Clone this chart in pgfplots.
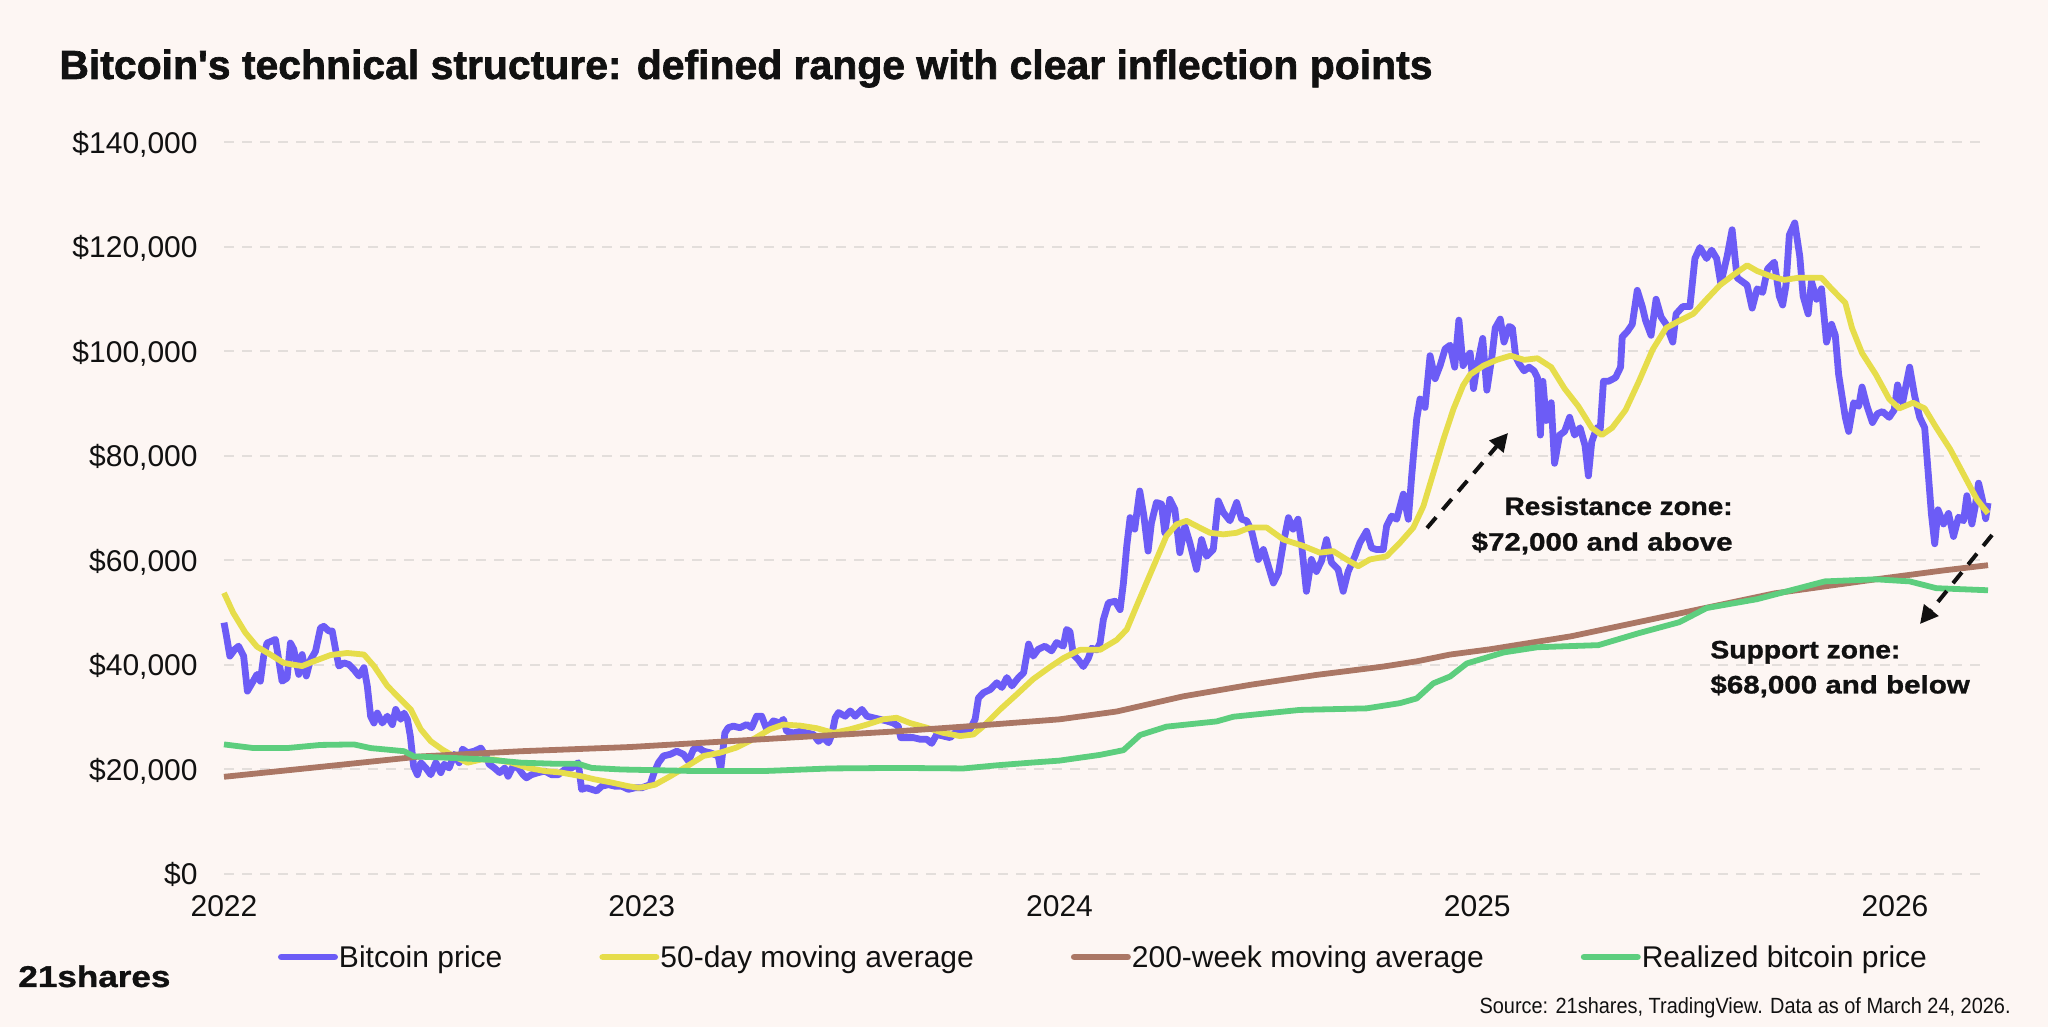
\documentclass[border=0pt]{standalone}
\usepackage{pgfplots}
\pgfplotsset{compat=1.18}
\usepackage{fontspec}
\setmainfont{Liberation Sans}
\newfontface\titlefont{Liberation Sans Bold}[FakeBold=1.6]
\newfontface\heavy{Liberation Sans Bold}[FakeBold=1.0]
\usetikzlibrary{arrows.meta}
\definecolor{bgc}{RGB}{253,246,243}
\definecolor{btc}{RGB}{108,92,246}
\definecolor{ma50}{RGB}{230,221,75}
\definecolor{ma200}{RGB}{171,119,101}
\definecolor{real}{RGB}{93,206,126}
\definecolor{gridc}{RGB}{227,222,219}
\definecolor{txt}{RGB}{17,17,17}
\begin{document}
\begin{tikzpicture}[x=1pt,y=1pt]
\fill[bgc] (0,0) rectangle (1024,513.5);
\useasboundingbox (0,0) rectangle (1024,513.5);
\begin{axis}[
  at={(112pt,76.5pt)}, anchor=south west, scale only axis,
  width=882pt, height=365.75pt,
  xmin=2022, xmax=2026.2226, ymin=0, ymax=140000,
  clip=false,
  axis line style={draw=none}, major tick length=0pt,
  scaled x ticks=false, scaled y ticks=false,
  xtick={2022,2023,2024,2025,2026}, xticklabels={2022,2023,2024,2025,2026},
  ytick={0,20000,40000,60000,80000,100000,120000,140000},
  yticklabels={{\$0},{\$20,000},{\$40,000},{\$60,000},{\$80,000},{\$100,000},{\$120,000},{\$140,000}},
  ymajorgrids, major grid style={gridc, line width=1pt, dash pattern=on 5pt off 4pt},
  tick label style={font=\fontsize{15}{18}\selectfont, text=txt, inner sep=0pt, text height=10.7pt, text depth=0pt},
  yticklabel style={anchor=east, xshift=-13pt},
  xticklabel style={anchor=north, yshift=-10.25pt},
  legend columns=4, legend cell align=left,
  legend style={at={(axis description cs:0.03061,-0.11347)}, anchor=west, draw=none, fill=none,
    inner sep=0pt, outer sep=0pt, font=\fontsize{15}{18}\selectfont, text=txt,
    nodes={inner sep=0.5pt, text height=10.7pt, text depth=0pt},
    /tikz/every even column/.append style={column sep=48pt}},
  legend image code/.code={\draw[#1, line width=3.4pt, line cap=round] (1.7pt,0pt) -- (28.3pt,0pt);},
]
\addplot[btc, line width=3.4pt, line join=round, mark=none] coordinates {
(2022.000,48100)(2022.006,45500)(2022.014,41700)(2022.026,43000)(2022.035,43600)(2022.047,41700)(2022.056,35000)(2022.067,36500)(2022.079,38200)(2022.087,36900)(2022.095,41700)(2022.103,44200)(2022.115,44600)(2022.123,44900)(2022.131,41000)(2022.139,36900)(2022.151,37500)(2022.159,44200)(2022.167,43000)(2022.179,38200)(2022.187,42000)(2022.197,37900)(2022.207,41000)(2022.219,42600)(2022.231,47100)(2022.239,47400)(2022.251,46500)(2022.259,46500)(2022.267,43000)(2022.275,39800)(2022.287,40400)(2022.299,40100)(2022.311,39100)(2022.323,37900)(2022.335,39500)(2022.343,36000)(2022.351,30200)(2022.359,28900)(2022.367,30800)(2022.379,28900)(2022.391,30200)(2022.403,28600)(2022.411,31500)(2022.423,29600)(2022.431,30800)(2022.439,29600)(2022.446,26400)(2022.454,20600)(2022.463,19000)(2022.471,21300)(2022.483,20300)(2022.495,19000)(2022.507,21300)(2022.519,19400)(2022.527,21000)(2022.539,20300)(2022.551,22900)(2022.563,21300)(2022.571,23900)(2022.583,23200)(2022.599,23500)(2022.615,24100)(2022.627,22500)(2022.635,21000)(2022.647,20300)(2022.660,19400)(2022.672,20300)(2022.680,18700)(2022.692,20600)(2022.704,20300)(2022.716,19000)(2022.724,18400)(2022.736,19000)(2022.752,19400)(2022.768,19700)(2022.784,19000)(2022.800,19000)(2022.816,20000)(2022.832,20300)(2022.848,21300)(2022.856,16200)(2022.868,16500)(2022.880,16200)(2022.892,15900)(2022.904,16800)(2022.920,17100)(2022.936,16800)(2022.952,16800)(2022.968,16200)(2022.984,16500)
(2023.000,16500)(2023.020,17100)(2023.030,19500)(2023.040,21300)(2023.052,22600)(2023.068,22900)(2023.084,23500)(2023.100,22900)(2023.112,21600)(2023.124,23900)(2023.136,24200)(2023.148,23500)(2023.164,23200)(2023.183,22600)(2023.189,20000)(2023.199,27000)(2023.207,28000)(2023.219,28300)(2023.235,28000)(2023.251,28600)(2023.263,28000)(2023.275,30200)(2023.287,30200)(2023.299,27700)(2023.315,29300)(2023.331,28900)(2023.339,29600)(2023.347,27300)(2023.363,27000)(2023.379,27300)(2023.395,27000)(2023.411,26700)(2023.423,25400)(2023.435,26100)(2023.447,25100)(2023.455,26700)(2023.463,29900)(2023.471,30900)(2023.487,30200)(2023.499,31200)(2023.511,30200)(2023.527,31500)(2023.539,30200)(2023.554,29900)(2023.570,29600)(2023.586,29300)(2023.602,28900)(2023.614,28300)(2023.620,26100)(2023.634,26100)(2023.650,26100)(2023.666,25800)(2023.682,25800)(2023.694,25000)(2023.706,26700)(2023.722,26400)(2023.738,26100)(2023.754,27300)(2023.770,27300)(2023.786,27700)(2023.798,29600)(2023.806,33700)(2023.818,34700)(2023.834,35300)(2023.850,36600)(2023.862,35700)(2023.874,37600)(2023.886,36000)(2023.902,37600)(2023.914,38500)(2023.926,44000)(2023.937,41700)(2023.949,43000)(2023.965,43600)(2023.981,42700)(2023.993,44300)
(2024.009,43600)(2024.017,46800)(2024.025,46400)(2024.033,42000)(2024.045,41000)(2024.057,39700)(2024.069,41300)(2024.077,43200)(2024.089,42900)(2024.097,44200)(2024.105,48700)(2024.117,51900)(2024.133,52200)(2024.145,50600)(2024.153,55700)(2024.161,62800)(2024.169,68200)(2024.180,66000)(2024.192,73300)(2024.202,68500)(2024.212,61800)(2024.220,67200)(2024.232,71100)(2024.244,70800)(2024.252,65300)(2024.264,71700)(2024.276,69800)(2024.288,61500)(2024.300,66600)(2024.312,63400)(2024.328,58300)(2024.340,64000)(2024.352,60800)(2024.368,62100)(2024.380,71400)(2024.392,69200)(2024.408,67600)(2024.424,71100)(2024.436,67900)(2024.448,67600)(2024.460,65600)(2024.476,60200)(2024.488,62100)(2024.500,58900)(2024.512,55700)(2024.524,57600)(2024.536,63400)(2024.548,68200)(2024.559,66000)(2024.571,67900)(2024.579,63400)(2024.591,54100)(2024.603,60200)(2024.615,57900)(2024.627,59900)(2024.639,64000)(2024.651,59600)(2024.667,58300)(2024.679,54100)(2024.691,57900)(2024.707,60800)(2024.719,63400)(2024.735,65600)(2024.747,62400)(2024.759,62100)(2024.775,62100)(2024.783,66600)(2024.795,68500)(2024.807,67900)(2024.823,72700)(2024.835,67900)(2024.843,76200)(2024.855,87100)(2024.863,90900)(2024.875,89300)(2024.887,99200)(2024.899,94800)(2024.911,97300)(2024.923,100500)(2024.935,101200)(2024.946,97000)(2024.956,106000)(2024.966,97300)(2024.978,99200)(2024.983,99700)(2024.991,92900)(2024.999,97000)
(2025.013,102500)(2025.023,92600)(2025.035,99000)(2025.043,104500)(2025.055,106200)(2025.064,101800)(2025.076,104800)(2025.084,104500)(2025.092,99000)(2025.100,97700)(2025.112,96300)(2025.124,97000)(2025.136,96300)(2025.144,95000)(2025.151,84000)(2025.157,94300)(2025.165,86800)(2025.177,90200)(2025.185,78600)(2025.197,84000)(2025.209,84700)(2025.221,87400)(2025.233,84000)(2025.246,85400)(2025.258,82000)(2025.266,76200)(2025.274,82700)(2025.286,85400)(2025.294,84700)(2025.302,94300)(2025.314,94300)(2025.331,95000)(2025.343,97000)(2025.347,102800)(2025.359,103800)(2025.371,105200)(2025.383,111700)(2025.395,108600)(2025.403,105900)(2025.416,103100)(2025.428,110000)(2025.440,106600)(2025.452,105200)(2025.468,101800)(2025.476,107200)(2025.492,108600)(2025.509,108600)(2025.521,117800)(2025.533,119900)(2025.549,117800)(2025.561,119400)(2025.573,117800)(2025.583,113000)(2025.598,118200)(2025.610,123300)(2025.622,114100)(2025.634,113400)(2025.646,112700)(2025.658,108300)(2025.670,112000)(2025.683,111300)(2025.695,115800)(2025.711,117100)(2025.723,110600)(2025.731,108900)(2025.739,112700)(2025.747,122300)(2025.760,124600)(2025.772,118200)(2025.780,110600)(2025.792,107200)(2025.800,113400)(2025.812,110000)(2025.824,112000)(2025.836,101800)(2025.848,105200)(2025.857,103100)(2025.865,95600)(2025.881,87400)(2025.889,84700)(2025.901,90200)(2025.913,89500)(2025.921,93200)(2025.933,89500)(2025.946,86400)(2025.958,88100)(2025.970,88500)(2025.986,87400)(2025.998,88800)
(2026.006,93600)(2026.018,90200)(2026.035,97000)(2026.047,91500)(2026.059,87400)(2026.071,85400)(2026.079,77200)(2026.087,69000)(2026.095,63200)(2026.103,69700)(2026.116,67000)(2026.128,69000)(2026.140,64600)(2026.152,68300)(2026.164,67600)(2026.172,72400)(2026.184,67000)(2026.192,70400)(2026.200,74800)(2026.209,71700)(2026.217,68000)(2026.2226,71000)
};
\addlegendentry{Bitcoin price}
\addplot[ma50, line width=2.9pt, line join=round, mark=none] coordinates {
(2022.000,53800)(2022.022,50000)(2022.051,46200)(2022.079,43500)(2022.111,42000)(2022.143,40400)(2022.163,40100)(2022.187,39800)(2022.215,40700)(2022.255,41900)(2022.295,42300)(2022.335,42000)(2022.359,39800)(2022.391,36000)(2022.423,33400)(2022.447,31500)(2022.471,27700)(2022.495,25400)(2022.523,23800)(2022.551,22500)(2022.583,21300)(2022.615,21900)(2022.647,21900)(2022.688,21300)(2022.728,20300)(2022.768,19700)(2022.808,19400)(2022.856,18700)(2022.888,18100)(2022.928,17500)(2022.968,16800)(2022.992,16500)
(2023.010,16700)(2023.032,17100)(2023.068,18700)(2023.108,20600)(2023.148,22600)(2023.187,23200)(2023.227,24200)(2023.267,25800)(2023.307,27700)(2023.339,28600)(2023.379,28400)(2023.419,27900)(2023.459,27000)(2023.499,27700)(2023.539,28600)(2023.578,29600)(2023.610,29900)(2023.642,28900)(2023.682,28000)(2023.722,27000)(2023.762,26400)(2023.794,26700)(2023.818,28300)(2023.858,31500)(2023.898,34400)(2023.937,37300)(2023.977,39600)
(2024.009,41300)(2024.049,42900)(2024.097,42900)(2024.137,44800)(2024.161,46800)(2024.184,51200)(2024.208,55700)(2024.232,60200)(2024.256,64700)(2024.280,66900)(2024.304,67600)(2024.328,66600)(2024.360,65300)(2024.392,65000)(2024.424,65300)(2024.456,66300)(2024.496,66300)(2024.536,64000)(2024.583,62800)(2024.623,61500)(2024.655,61800)(2024.687,60200)(2024.715,58900)(2024.743,60200)(2024.783,60800)(2024.815,63400)(2024.847,66300)(2024.871,70400)(2024.895,76800)(2024.919,83200)(2024.943,89000)(2024.966,93500)(2024.983,95600)
(2025.015,97300)(2025.047,98400)(2025.080,99200)(2025.112,98400)(2025.144,98700)(2025.177,97000)(2025.209,92900)(2025.242,89500)(2025.274,85400)(2025.298,84000)(2025.323,85400)(2025.355,88800)(2025.387,94300)(2025.420,100400)(2025.452,104500)(2025.484,105900)(2025.517,107200)(2025.549,110000)(2025.581,112700)(2025.614,114700)(2025.646,116500)(2025.670,115400)(2025.703,114400)(2025.735,113700)(2025.768,114100)(2025.800,114100)(2025.824,114100)(2025.848,112000)(2025.881,109300)(2025.897,104500)(2025.921,99700)(2025.954,95600)(2025.986,90900)
(2026.010,89100)(2026.043,90200)(2026.071,89100)(2026.099,85400)(2026.132,81300)(2026.164,76500)(2026.196,71700)(2026.2226,69000)
};
\addlegendentry{50-day moving average}
\addplot[ma200, line width=2.9pt, line join=round, mark=none] coordinates {
(2022.000,18600)(2022.231,20500)(2022.471,22500)(2022.712,23500)(2022.972,24300)(2023.291,25800)(2023.610,27300)(2023.770,28200)(2024.000,29600)(2024.137,31100)(2024.296,34000)(2024.456,36200)(2024.615,38100)(2024.775,39700)(2024.855,40700)(2024.935,42000)(2025.030,43000)(2025.225,45500)(2025.468,49600)(2025.711,53700)(2025.954,56400)(2026.116,58100)(2026.2226,59100)
};
\addlegendentry{200-week moving average}
\addplot[real, line width=2.9pt, line join=round, mark=none] coordinates {
(2022.000,24800)(2022.071,24100)(2022.151,24100)(2022.231,24700)(2022.311,24800)(2022.351,24100)(2022.431,23500)(2022.455,22500)(2022.551,22200)(2022.631,21900)(2022.712,21300)(2022.792,21100)(2022.848,21100)(2022.880,20300)(2022.952,20000)(2023.132,19700)(2023.291,19700)(2023.451,20200)(2023.610,20300)(2023.770,20200)(2023.850,20800)(2023.930,21300)(2024.000,21700)(2024.097,22800)(2024.153,23700)(2024.193,26600)(2024.256,28200)(2024.376,29200)(2024.416,30100)(2024.575,31400)(2024.735,31700)(2024.815,32700)(2024.855,33600)(2024.895,36500)(2024.935,37800)(2024.975,40300)(2025.063,42400)(2025.144,43400)(2025.290,43800)(2025.387,46100)(2025.484,48200)(2025.549,50900)(2025.670,52600)(2025.751,54300)(2025.832,56000)(2025.954,56400)(2026.035,56000)(2026.099,54700)(2026.2226,54300)
};
\addlegendentry{Realized bitcoin price}
\end{axis}
% title, logo, source
\node[anchor=base west, inner sep=0pt, text=txt] at (29.5,474) {\resizebox{686.5pt}{\height}{\titlefont\fontsize{20.3}{24}\selectfont Bitcoin's technical structure: defined range with clear inflection points}};
\node[anchor=base west, inner sep=0pt, text=txt] at (9,20) {\resizebox{76pt}{\height}{\heavy\fontsize{15}{18}\selectfont 21shares}};
\node[anchor=base east, inner sep=0pt, text=txt] at (1005.5,7) {\resizebox{265.5pt}{\height}{\fontsize{11}{13}\selectfont Source: 21shares, TradingView. Data as of March 24, 2026.}};
% annotations
\node[anchor=base east, inner sep=0pt, text=txt] at (866.5,256) {\resizebox{114pt}{\height}{\heavy\fontsize{12.6}{15}\selectfont Resistance zone:}};
\node[anchor=base east, inner sep=0pt, text=txt] at (866.5,238.2) {\resizebox{130.5pt}{\height}{\heavy\fontsize{12.6}{15}\selectfont \$72,000 and above}};
\node[anchor=base west, inner sep=0pt, text=txt] at (855,184.3) {\resizebox{95pt}{\height}{\heavy\fontsize{12.6}{15}\selectfont Support zone:}};
\node[anchor=base west, inner sep=0pt, text=txt] at (855,166.8) {\resizebox{129.7pt}{\height}{\heavy\fontsize{12.6}{15}\selectfont \$68,000 and below}};
\draw[txt, line width=2pt, dash pattern=on 7pt off 5pt, -{Triangle[length=9pt,width=9pt]}] (713.5,249.5) -- (754,297);
\draw[txt, line width=2pt, dash pattern=on 7pt off 5pt, -{Triangle[length=9pt,width=9pt]}] (996,246) -- (960,201.5);
\end{tikzpicture}
\end{document}
